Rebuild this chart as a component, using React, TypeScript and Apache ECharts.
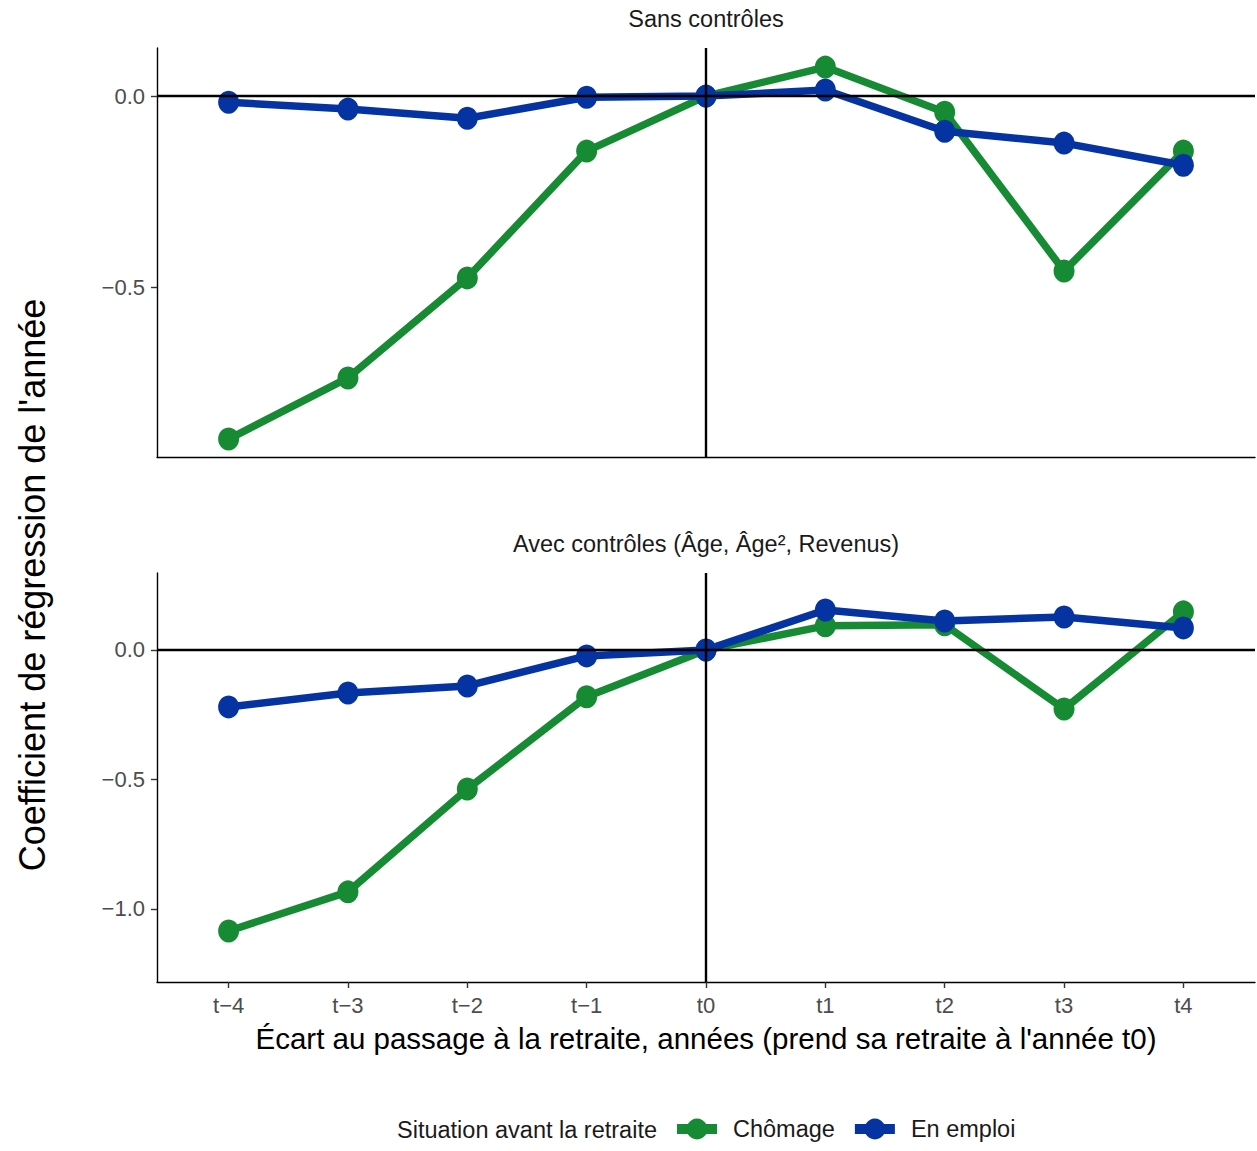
import React, { useEffect, useRef } from "react";
import * as echarts from "echarts";

const CATEGORIES = ["t−4", "t−3", "t−2", "t−1", "t0", "t1", "t2", "t3", "t4"];
const X_POS = [-4, -3, -2, -1, 0, 1, 2, 3, 4];

// Panel 1 : Sans contrôles
const TOP_CHOMAGE = [-0.898, -0.738, -0.476, -0.144, 0, 0.076, -0.042, -0.458, -0.144];
const TOP_EMPLOI = [-0.016, -0.034, -0.058, -0.003, 0, 0.016, -0.092, -0.123, -0.181];
// Panel 2 : Avec contrôles
const BOT_CHOMAGE = [-1.085, -0.934, -0.537, -0.181, 0, 0.093, 0.097, -0.228, 0.147];
const BOT_EMPLOI = [-0.22, -0.166, -0.139, -0.023, 0, 0.154, 0.112, 0.127, 0.085];

const TOP_TICKS = [0, -0.5];
const BOT_TICKS = [0, -0.5, -1.0];

const GREEN = "#168B34";
const BLUE = "#0533A1";
const FONT = "'Liberation Sans', Arial, Helvetica, sans-serif";

const fmtY = (v: number) => {
  const s = Math.abs(v).toFixed(1);
  return v < 0 ? "−" + s : s;
};

const pairs = (vals: number[]) => X_POS.map((x, i) => [x, vals[i]]);

export default function App() {
  const ref = useRef<HTMLDivElement>(null);
  useEffect(() => {
    if (!ref.current) return;
    const chart = echarts.init(ref.current, null, { renderer: "svg" });

    const xBase = (gridIndex: number, showLabels: boolean) => ({
      type: "value",
      gridIndex,
      min: -4.6,
      max: 4.6,
      axisLine: { show: true, onZero: false, lineStyle: { color: "#000", width: 1.4 } },
      axisTick: {
        show: showLabels,
        customValues: X_POS,
        length: 6,
        lineStyle: { color: "#333", width: 1.4 },
      },
      axisLabel: {
        show: showLabels,
        customValues: X_POS,
        formatter: (v: number) => CATEGORIES[X_POS.indexOf(Math.round(v))] ?? "",
        color: "#4D4D4D",
        fontSize: 22,
        fontFamily: FONT,
        margin: 12,
      },
      splitLine: { show: false },
    });

    const yBase = (gridIndex: number, min: number, max: number, ticks: number[]) => ({
      type: "value",
      gridIndex,
      min,
      max,
      axisLine: { show: true, onZero: false, lineStyle: { color: "#000", width: 1.4 } },
      axisTick: { show: true, customValues: ticks, length: 6, lineStyle: { color: "#333", width: 1.4 } },
      axisLabel: {
        customValues: ticks,
        formatter: fmtY,
        color: "#4D4D4D",
        fontSize: 22,
        fontFamily: FONT,
        margin: 12,
      },
      splitLine: { show: false },
    });

    const refLines = {
      silent: true,
      symbol: "none",
      label: { show: false },
      lineStyle: { color: "#000", width: 2.4, type: "solid" },
      data: [{ yAxis: 0 }, { xAxis: 0 }],
    };

    const lineSeries = (name: string, color: string, vals: number[], idx: number, withRef: boolean) => ({
      type: "line",
      name,
      xAxisIndex: idx,
      yAxisIndex: idx,
      data: pairs(vals),
      symbol: "circle",
      symbolSize: [21, 23],
      lineStyle: { color, width: 7.5 },
      itemStyle: { color },
      z: 3,
      ...(withRef ? { markLine: refLines } : {}),
    });

    chart.setOption({
      animation: false,
      backgroundColor: "#fff",
      grid: [
        { left: 157, top: 48, width: 1098, height: 409 },
        { left: 157, top: 573, width: 1098, height: 409 },
      ],
      xAxis: [xBase(0, false), xBase(1, true)],
      yAxis: [yBase(0, -0.945, 0.126, TOP_TICKS), yBase(1, -1.282, 0.297, BOT_TICKS)],
      legend: {
        data: ["Chômage", "En emploi"],
        left: 667,
        top: 1112,
        itemWidth: 40,
        itemHeight: 26,
        itemGap: 15,
        lineStyle: { width: 10 },
        textStyle: { fontSize: 23.5, color: "#1a1a1a", fontFamily: FONT, padding: [0, 0, 0, 11] },
      },
      graphic: [
        {
          type: "text",
          x: 706,
          y: 19,
          style: { text: "Sans contrôles", font: `23.5px ${FONT}`, fill: "#1a1a1a", align: "center", verticalAlign: "middle" },
        },
        {
          type: "text",
          x: 706,
          y: 544,
          style: {
            text: "Avec contrôles (Âge, Âge², Revenus)",
            font: `23.5px ${FONT}`,
            fill: "#1a1a1a",
            align: "center",
            verticalAlign: "middle",
          },
        },
        {
          type: "text",
          x: 32,
          y: 585,
          rotation: Math.PI / 2,
          style: {
            text: "Coefficient de régression de l'année",
            font: `36px ${FONT}`,
            fill: "#000",
            align: "center",
            verticalAlign: "middle",
          },
        },
        {
          type: "text",
          x: 706,
          y: 1038,
          style: {
            text: "Écart au passage à la retraite, années (prend sa retraite à l'année t0)",
            font: `29.5px ${FONT}`,
            fill: "#000",
            align: "center",
            verticalAlign: "middle",
          },
        },
        {
          type: "text",
          x: 657,
          y: 1130,
          style: {
            text: "Situation avant la retraite",
            font: `23.5px ${FONT}`,
            fill: "#1a1a1a",
            align: "right",
            verticalAlign: "middle",
          },
        },
      ],
      series: [
        lineSeries("Chômage", GREEN, TOP_CHOMAGE, 0, true),
        lineSeries("En emploi", BLUE, TOP_EMPLOI, 0, false),
        lineSeries("Chômage", GREEN, BOT_CHOMAGE, 1, true),
        lineSeries("En emploi", BLUE, BOT_EMPLOI, 1, false),
      ],
    });
    return () => chart.dispose();
  }, []);

  return <div ref={ref} style={{ width: 1257, height: 1151, position: "absolute", left: 0, top: 0 }} />;
}
